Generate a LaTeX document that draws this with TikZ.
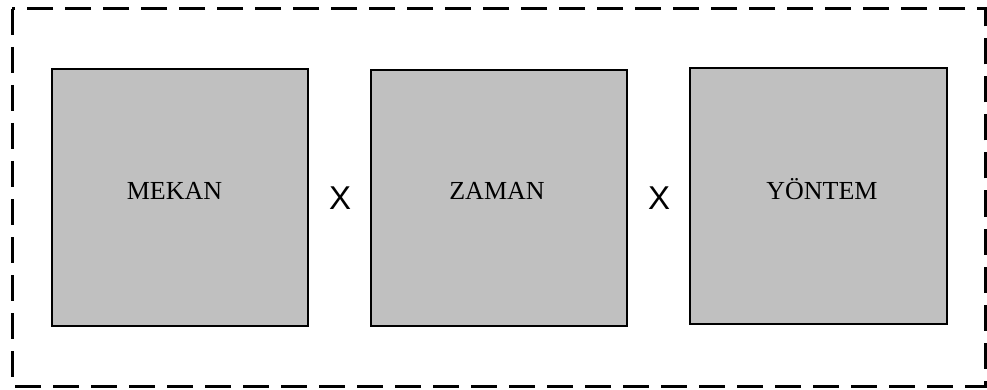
\documentclass[tikz,border=0pt]{standalone}
\usepackage{fontspec}
\setmainfont{Liberation Serif}
\newfontfamily\xsans{Liberation Sans}
\definecolor{boxgray}{HTML}{C0C0C0}
\begin{document}
\begin{tikzpicture}[x=1pt,y=-1pt,
  frame/.style={draw=black,line width=3pt,dash pattern=on 26pt off 12pt},
  factor/.style={draw=black,fill=boxgray,line width=1.6pt},
  factorlabel/.style={font=\fontsize{26}{30}\selectfont,anchor=base,inner sep=0pt},
  times/.style={font=\xsans\fontsize{33}{36}\selectfont,inner sep=0pt}]
\useasboundingbox (0,0) rectangle (987,390);
% outer dashed frame
\draw[frame] (12,9) rectangle (985.5,386);
% three factor boxes
\node[factor,minimum width=256pt,minimum height=257pt,inner sep=0pt] (mekan) at (180,197.5) {};
\node[factor,minimum width=256pt,minimum height=256pt,inner sep=0pt] (zaman) at (499,198) {};
\node[factor,minimum width=257pt,minimum height=256pt,inner sep=0pt] (yontem) at (818.5,196) {};
% labels
\node[factorlabel] (lmekan) at (174.5,200) {MEKAN};
\node[factorlabel] (lzaman) at (497,200) {ZAMAN};
\node[factorlabel] (lyontem) at (822,200) {YÖNTEM};
% multiplication signs
\node[times] (x1) at (340,198) {X};
\node[times] (x2) at (659,198) {X};
\end{tikzpicture}
\end{document}
